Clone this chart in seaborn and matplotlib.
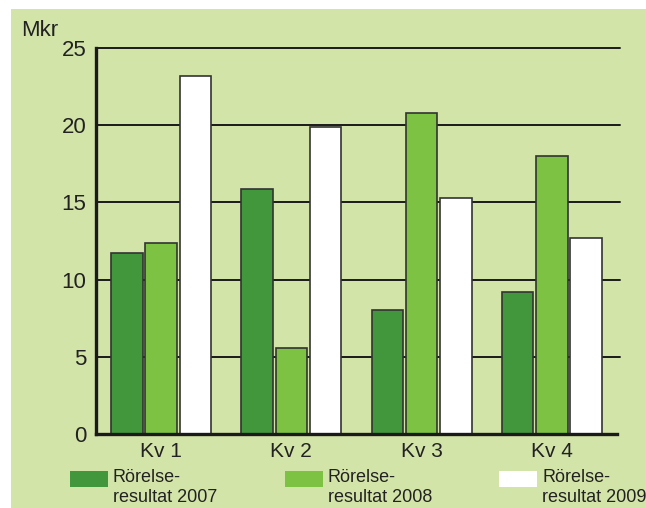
import matplotlib
matplotlib.use('Agg')
import matplotlib.pyplot as plt
from matplotlib.patches import Rectangle
import pandas as pd
import seaborn as sns

# data
quarters = ['Kv 1', 'Kv 2', 'Kv 3', 'Kv 4']
series = ['Rörelse-\nresultat 2007', 'Rörelse-\nresultat 2008', 'Rörelse-\nresultat 2009']
res_2007 = [11.7, 15.9, 8.0, 9.2]
res_2008 = [12.4, 5.6, 20.8, 18.0]
res_2009 = [23.2, 19.9, 15.3, 12.7]
yticks = [0, 5, 10, 15, 20, 25]

colors = ['#42963c', '#7dc243', '#ffffff']
bg = '#d3e4a9'

rows = []
for name, vals in zip(series, [res_2007, res_2008, res_2009]):
    for q, v in zip(quarters, vals):
        rows.append({'Kvartal': q, 'Serie': name, 'Mkr': v})
df = pd.DataFrame(rows)

sns.set_style('white')
plt.rcParams['font.family'] = ['Liberation Sans', 'DejaVu Sans']

W, H = 646, 508
fig = plt.figure(figsize=(W / 100, H / 100), dpi=100, facecolor='white')
# green panel with a thin white border on top and left
fig.add_artist(Rectangle((11 / W, 0), 1, 1 - 9 / H, transform=fig.transFigure,
                         facecolor=bg, edgecolor='none', zorder=-10))

ax = fig.add_axes([96 / W, 1 - 434 / H, (617 - 96) / W, (434 - 48) / H])
ax.set_facecolor('none')

sns.barplot(data=df, x='Kvartal', y='Mkr', hue='Serie', ax=ax,
            palette=colors, order=quarters, hue_order=series,
            saturation=1, width=0.79, gap=0.08,
            edgecolor='#333333', linewidth=1.2, legend=False, zorder=3)

ax.set_xlim(-0.5, 3.5)
ax.set_ylim(0, 25)

# horizontal rules
for y in yticks[1:]:
    ax.axhline(y, xmin=0, xmax=1.005, color='#1a1a1a', linewidth=1.4,
               zorder=1, clip_on=False)

for s in ['top', 'right']:
    ax.spines[s].set_visible(False)
for s in ['left', 'bottom']:
    ax.spines[s].set_color('#1a1a1a')
    ax.spines[s].set_linewidth(2.4)
    ax.spines[s].set_zorder(5)

ax.set_yticks(yticks)
ax.tick_params(axis='y', direction='in', length=13, width=2.4, color='#1a1a1a',
               labelsize=16, pad=7, labelcolor='#222222')

# group boundary ticks on x axis, labels centred between
ax.set_xticks([-0.5, 0.5, 1.5, 2.5, 3.5])
ax.set_xticklabels([])
ax.tick_params(axis='x', direction='in', length=8, width=2, color='#1a1a1a')
ax.set_xticks(range(len(quarters)), minor=True)
ax.set_xticklabels(quarters, minor=True)
ax.tick_params(axis='x', which='minor', length=0, labelsize=15, pad=6,
               labelcolor='#222222')

ax.set_xlabel('')
ax.set_ylabel('')
fig.text(21 / W, 1 - 31 / H, 'Mkr', fontsize=16, color='#222222',
         ha='left', va='center')

# legend drawn below the axis
for i, (name, col) in enumerate(zip(series, colors)):
    x0 = 70 + 214.5 * i
    fig.add_artist(Rectangle((x0 / W, 1 - 487 / H), 38 / W, 16 / H,
                             transform=fig.transFigure, facecolor=col,
                             edgecolor='none'))
    fig.text((x0 + 43) / W, 1 - 469 / H, name, fontsize=13, color='#222222',
             ha='left', va='top', linespacing=1.2)

fig.savefig('out.png', dpi=100, facecolor=fig.get_facecolor())
